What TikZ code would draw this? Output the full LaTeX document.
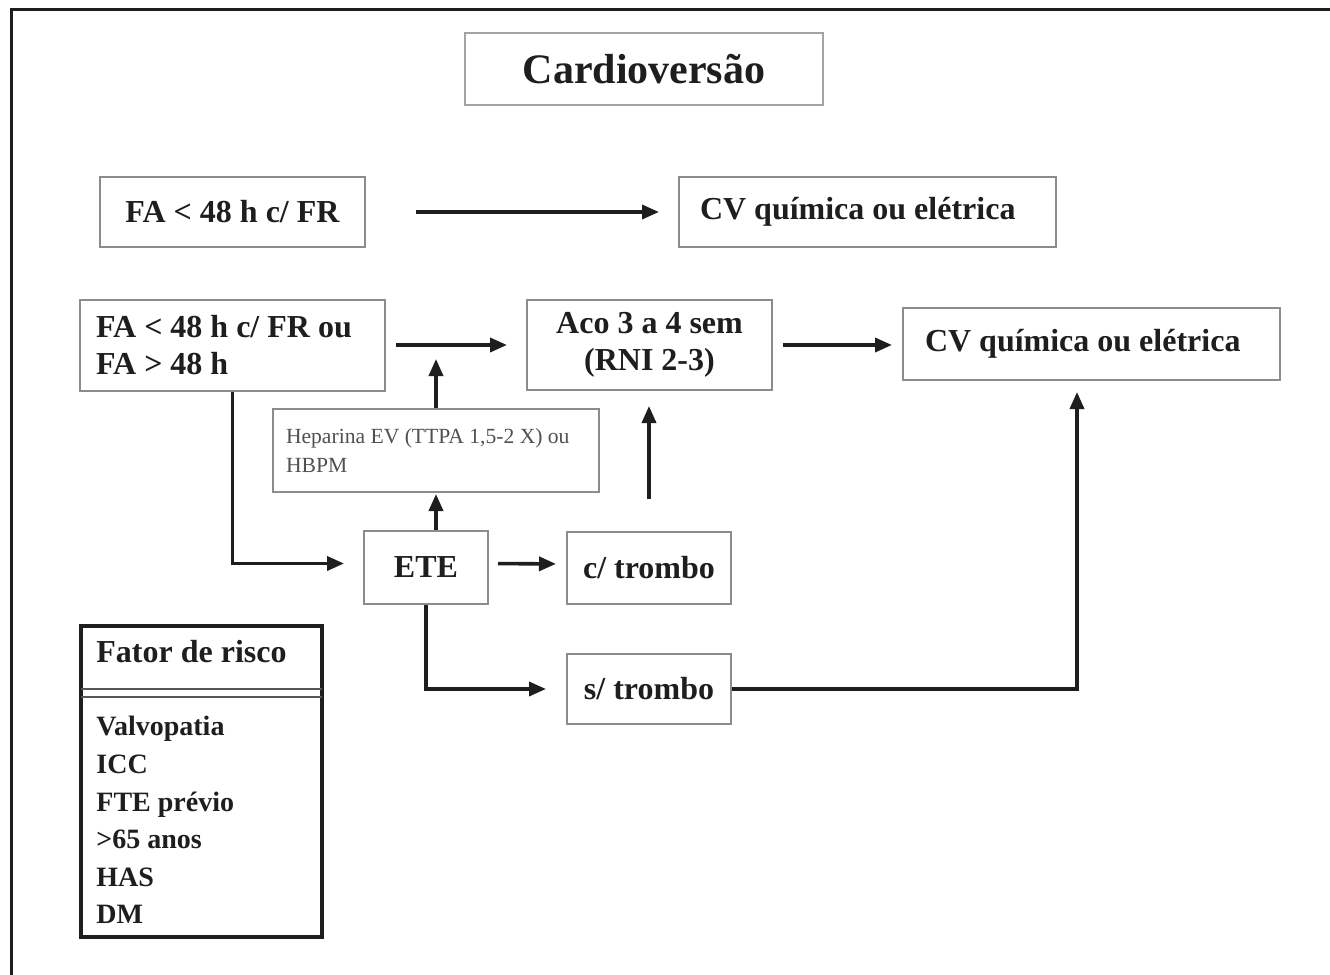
\documentclass[tikz,border=0pt]{standalone}
\usepackage{fontspec}
\setmainfont{Liberation Serif}
\usetikzlibrary{arrows.meta}
\definecolor{boxgray}{HTML}{8C8C8C}
\definecolor{ink}{HTML}{1E1E1E}
\definecolor{softink}{HTML}{505050}
\begin{document}
\begin{tikzpicture}[x=0.5pt,y=-0.5pt,
  box/.style={draw=boxgray, line width=1pt, inner sep=0pt, text=ink,
    font=\fontsize{16}{18.5}\selectfont\bfseries},
  arr/.style={draw=ink, line width=1.8pt, -{Triangle[length=8.5pt,width=7pt]}},
  frame/.style={draw=ink, line width=1.5pt},
]
\useasboundingbox (0,0) rectangle (1330,975);
\fill[white] (0,0) rectangle (1330,975);
% page frame
\draw[frame] (1330,9) -- (11,9) -- (11,975);

% title
\node[box, draw=boxgray!80, line width=1.3pt, minimum width=179pt, minimum height=36pt,
  font=\fontsize{21}{24}\selectfont\bfseries] (title) at (644,69) {Cardioversão};

% first row
\node[box, minimum width=132.5pt, minimum height=35pt] (fa1) at (232.5,212) {FA < 48 h c/ FR};
\node[box, inner xsep=10.5pt, text width=167.5pt, align=flush left, minimum height=35pt]
  (cv1) at (867.5,212) {CV química ou elétrica};

% second row
\node[box, inner xsep=8pt, text width=136.5pt, align=flush left, minimum height=45.5pt]
  (fa2) at (232.5,345) {FA < 48 h c/ FR ou\\FA > 48 h};
\node[box, minimum width=122.5pt, minimum height=45pt, align=center]
  (aco) at (649.5,345) {Aco 3 a 4 sem\\(RNI 2-3)};
\node[box, inner xsep=11pt, text width=166.5pt, align=flush left, minimum height=36pt]
  (cv2) at (1091.5,344) {CV química ou elétrica};

% anticoagulation
\node[box, inner xsep=6.5pt, text width=150pt, align=flush left, minimum height=41.5pt,
  text=softink, font=\fontsize{10.8}{14.5}\selectfont]
  (hep) at (436,450.5) {Heparina EV (TTPA 1,5-2 X) ou\\HBPM};

% echo and outcomes
\node[box, minimum width=62pt, minimum height=36.5pt] (ete) at (426,567.5) {ETE};
\node[box, minimum width=82pt, minimum height=36pt] (ctr) at (649,568) {c/ trombo};
\node[box, minimum width=82pt, minimum height=35pt] (str) at (649,689) {s/ trombo};

% risk factor table
\node[draw=ink, line width=2pt, minimum width=120.5pt, minimum height=155.5pt, inner sep=0pt]
  (risk) at (201.5,781.5) {};
\node[anchor=west, inner sep=0pt, text=ink, font=\fontsize{16}{18}\selectfont\bfseries]
  (riskhead) at (96,652) {Fator de risco};
\coordinate (sepa) at (0,689);
\coordinate (sepb) at (0,697);
\draw[draw=ink!75, line width=1.2pt] ([xshift=1pt]risk.west |- sepa) -- ([xshift=-1pt]risk.east |- sepa);
\draw[draw=ink!75, line width=1.2pt] ([xshift=1pt]risk.west |- sepb) -- ([xshift=-1pt]risk.east |- sepb);
\node[anchor=north west, inner sep=0pt, align=flush left, text=ink,
  font=\fontsize{14}{18.8}\selectfont\bfseries]
  (risklist) at (96,716) {Valvopatia\\ICC\\FTE prévio\\>65 anos\\HAS\\DM};

% connectors
\draw[arr, shorten <=25pt, shorten >=9.5pt] (fa1.east) -- (cv1.west);
\draw[arr, shorten <=5pt, shorten >=9.5pt] (fa2.east) -- (aco.west);
\draw[arr, shorten <=5pt, shorten >=5pt] (aco.east) -- (aco.east -| cv2.west);
\draw[arr, shorten >=7pt] (hep.north) -- (hep.north |- fa2.east);
\draw[arr, shorten >=0.5pt] (hep.south |- ete.north) -- (hep.south);
\draw[arr, shorten >=9.5pt] (fa2.south) |- ([yshift=2pt]ete.west);
\draw[arr, shorten <=4.5pt, shorten >=5pt] ([yshift=2pt]ete.east) -- ([yshift=2pt]ctr.west);
\draw[arr, shorten <=16pt, shorten >=7.5pt] (ctr.north) -- (ctr.north |- aco.south);
\draw[arr, shorten >=10pt] (ete.south) |- (str.west);
\coordinate (cvin) at ([xshift=-7.25pt]cv2.south);
\draw[arr, shorten >=5.5pt] (str.east) -| (cvin);
\end{tikzpicture}
\end{document}
